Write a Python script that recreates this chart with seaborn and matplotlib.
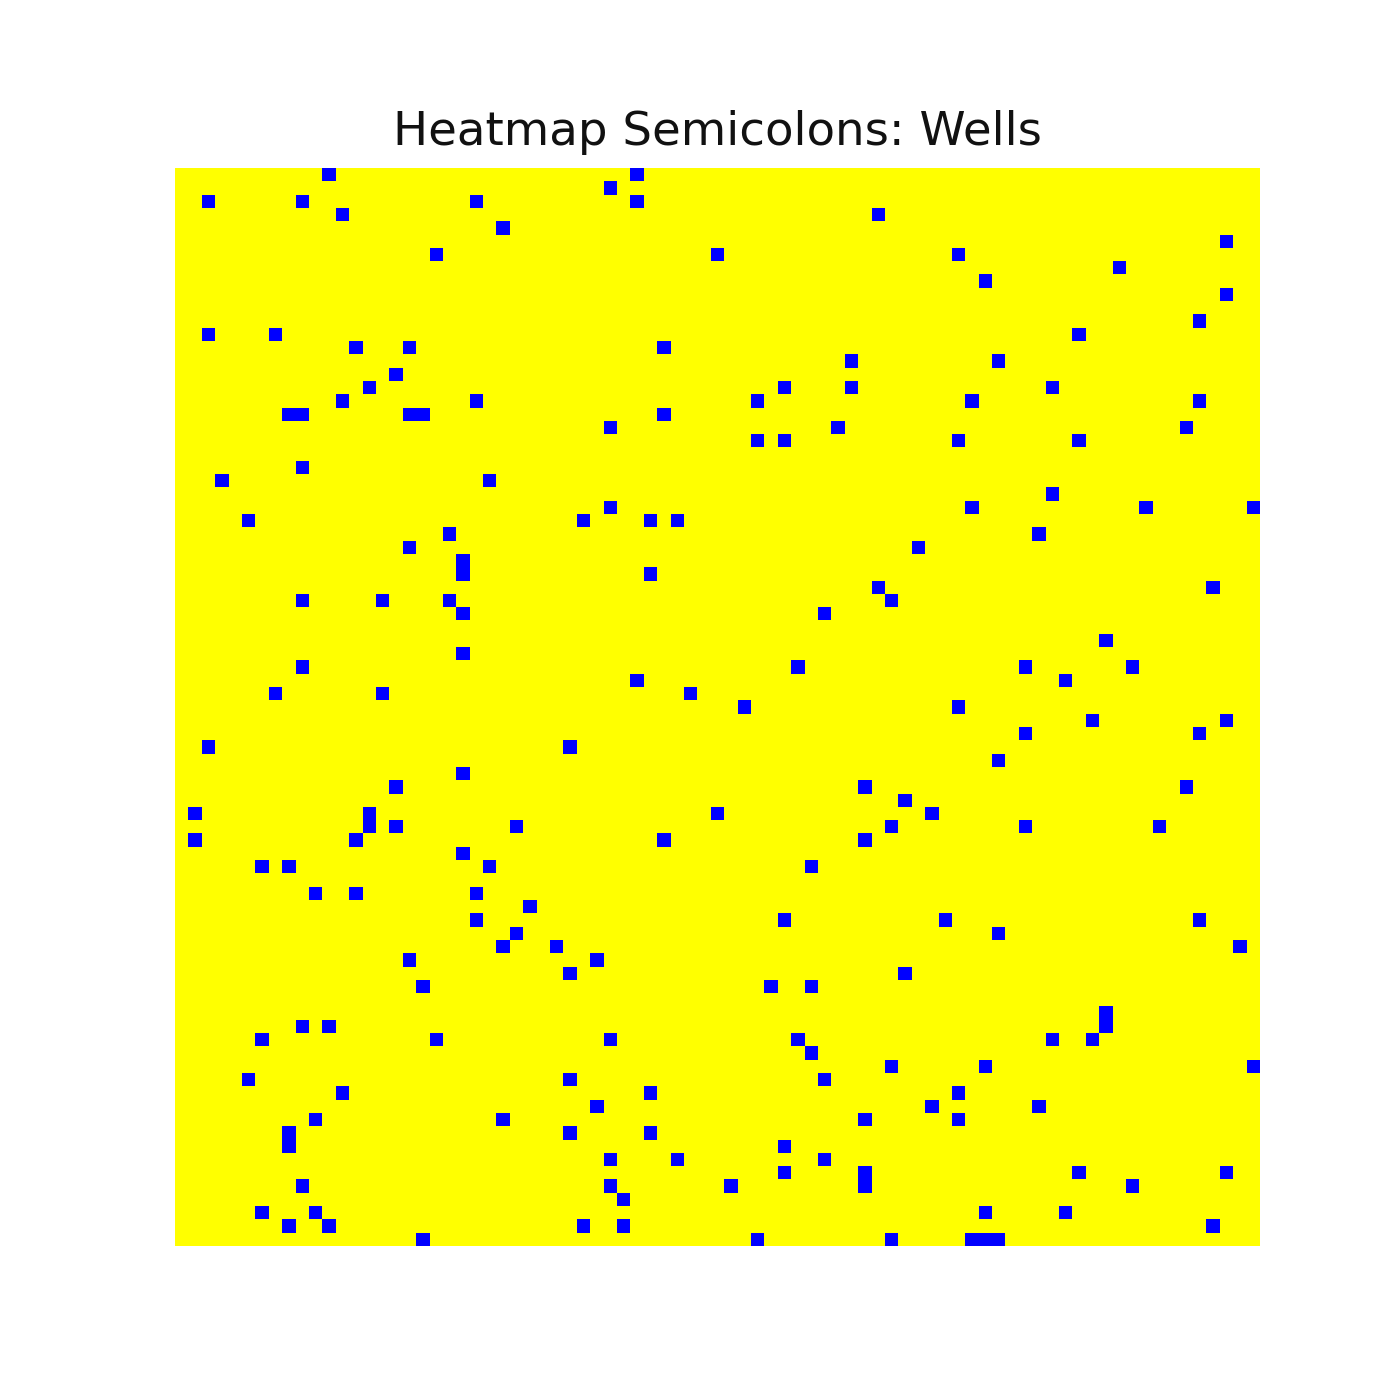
import numpy as np
import matplotlib
matplotlib.use("Agg")
import matplotlib.pyplot as plt
from matplotlib.colors import ListedColormap
import seaborn as sns

# grid of wells, 81 x 81; 1 = semicolon found (blue), 0 = empty (yellow)
n_rows = 81
n_cols = 81

# positions of the semicolons (row, col), grouped by row
well_rows = [
    0, 0,
    1,
    2, 2, 2, 2,
    3, 3,
    4,
    5,
    6, 6, 6,
    7,
    8,
    9,
    11,
    12, 12, 12,
    13, 13, 13,
    14, 14,
    15,
    16, 16, 16, 16,
    17, 17, 17, 17, 17,
    18, 18, 18, 18, 18,
    19, 19, 19,
    20, 20, 20, 20,
    22,
    23, 23,
    24,
    25, 25, 25, 25,
    26, 26, 26, 26,
    27, 27,
    28, 28,
    29,
    30, 30,
    31, 31,
    32, 32, 32, 32,
    33, 33,
    35,
    36,
    37, 37, 37, 37,
    38, 38,
    39, 39, 39,
    40, 40,
    41, 41,
    42, 42,
    43, 43,
    44,
    45,
    46, 46, 46,
    47,
    48, 48, 48, 48,
    49, 49, 49, 49, 49, 49,
    50, 50, 50, 50,
    51,
    52, 52, 52, 52,
    54, 54, 54,
    55,
    56, 56, 56, 56,
    57, 57,
    58, 58, 58,
    59, 59,
    60, 60,
    61, 61, 61,
    63,
    64, 64, 64,
    65, 65, 65, 65, 65, 65,
    66,
    67, 67, 67,
    68, 68, 68,
    69, 69, 69,
    70, 70, 70,
    71, 71, 71, 71,
    72, 72, 72,
    73, 73,
    74, 74, 74,
    75, 75, 75, 75,
    76, 76, 76, 76, 76,
    77,
    78, 78, 78, 78,
    79, 79, 79, 79, 79,
    80, 80, 80, 80, 80, 80,
]
well_cols = [
    11, 34,
    32,
    2, 9, 22, 34,
    12, 52,
    24,
    78,
    19, 40, 58,
    70,
    60,
    78,
    76,
    2, 7, 67,
    13, 17, 36,
    50, 61,
    16,
    14, 45, 50, 65,
    12, 22, 43, 59, 76,
    8, 9, 17, 18, 36,
    32, 49, 75,
    43, 45, 58, 67,
    9,
    3, 23,
    65,
    32, 59, 72, 80,
    5, 30, 35, 37,
    20, 64,
    17, 55,
    21,
    21, 35,
    52, 77,
    9, 15, 20, 53,
    21, 48,
    69,
    21,
    9, 46, 63, 71,
    34, 66,
    7, 15, 38,
    42, 58,
    68, 78,
    63, 76,
    2, 29,
    61,
    21,
    16, 51, 75,
    54,
    1, 14, 40, 56,
    14, 16, 25, 53, 63, 73,
    1, 13, 36, 51,
    21,
    6, 8, 23, 47,
    10, 13, 22,
    26,
    22, 45, 57, 76,
    25, 61,
    24, 28, 79,
    17, 31,
    29, 54,
    18, 44, 47,
    69,
    9, 11, 69,
    6, 19, 32, 46, 65, 68,
    47,
    53, 60, 80,
    5, 29, 48,
    12, 35, 58,
    31, 56, 64,
    10, 24, 51, 58,
    8, 29, 35,
    8, 45,
    32, 37, 48,
    45, 51, 67, 78,
    9, 32, 41, 51, 71,
    33,
    6, 10, 60, 66,
    8, 11, 30, 33, 77,
    18, 43, 53, 59, 60, 61,
]

title = "Heatmap Semicolons: Wells"

# build the matrix
grid = np.zeros((n_rows, n_cols))
grid[well_rows, well_cols] = 1

sns.set_theme(style="white")

fig, ax = plt.subplots(figsize=(7, 7), dpi=200)
sns.heatmap(grid, cmap=ListedColormap(["yellow", "blue"]), vmin=0, vmax=1,
            cbar=False, xticklabels=False, yticklabels=False, ax=ax)
ax.axis("off")
ax.set_title(title, fontsize=16.8, color="#111111", pad=8.2)

fig.savefig("out.png", dpi=200)
